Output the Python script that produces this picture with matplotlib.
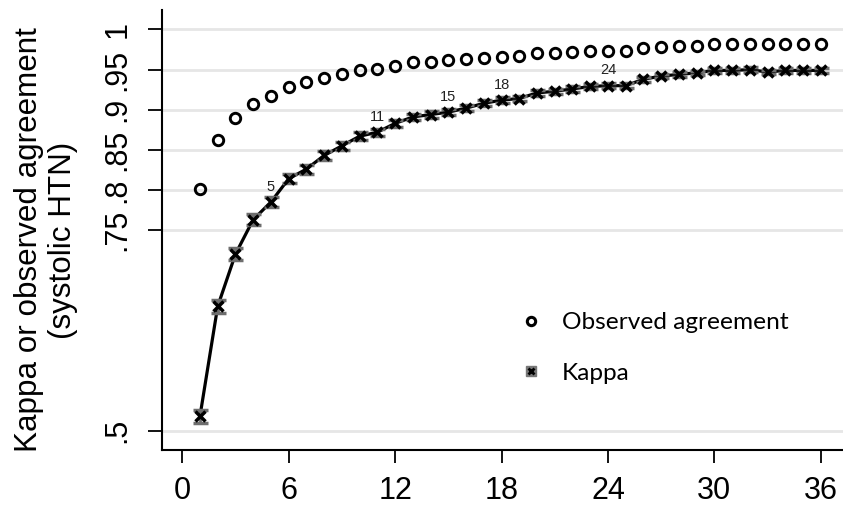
import matplotlib
matplotlib.use('Agg')
import matplotlib.pyplot as plt
from matplotlib.lines import Line2D

# readings per number of measurements
n_meas = list(range(1, 37))
observed = [0.801, 0.862, 0.890, 0.907, 0.917, 0.928, 0.934, 0.940, 0.944, 0.949,
            0.951, 0.955, 0.959, 0.960, 0.962, 0.963, 0.964, 0.966, 0.967, 0.971,
            0.971, 0.972, 0.973, 0.973, 0.973, 0.977, 0.978, 0.980, 0.980, 0.982,
            0.982, 0.982, 0.982, 0.982, 0.982, 0.982]
kappa = [0.518, 0.655, 0.720, 0.763, 0.785, 0.814, 0.826, 0.843, 0.855, 0.867,
         0.872, 0.883, 0.891, 0.894, 0.897, 0.902, 0.908, 0.912, 0.914, 0.921,
         0.923, 0.926, 0.929, 0.930, 0.930, 0.938, 0.942, 0.944, 0.946, 0.949,
         0.949, 0.950, 0.947, 0.949, 0.949, 0.949]
kappa_err = [0.0078, 0.0077, 0.0072, 0.0066, 0.0062, 0.0058, 0.0055, 0.0052, 0.0050, 0.0048,
             0.0046, 0.0044, 0.0042, 0.0041, 0.0040, 0.0039, 0.0038, 0.0037, 0.0036, 0.0035,
             0.0034, 0.0033, 0.0033, 0.0032, 0.0032, 0.0031, 0.0030, 0.0030, 0.0029, 0.0029,
             0.0028, 0.0028, 0.0028, 0.0027, 0.0027, 0.0027]
labelled = [5, 11, 15, 18, 24]

yticks = [0.5, 0.75, 0.8, 0.85, 0.9, 0.95, 1.0]
ytick_labels = ['.5', '.75', '.8', '.85', '.9', '.95', '1']
xticks = [0, 6, 12, 18, 24, 30, 36]

plt.rcParams['font.family'] = ['Liberation Sans', 'DejaVu Sans']

fig = plt.figure(figsize=(8.43, 5.08), dpi=100)
ax = fig.add_axes([162 / 843, 1 - 450.3 / 508, 1 - 162 / 843, 440.3 / 508])

ax.set_xlim(-1.14, 37.25)
ax.set_ylim(0.4756, 1.0243)

for y in yticks:
    ax.axhline(y, color='#e6e6e6', lw=2, zorder=0)

ax.plot(n_meas, observed, 'o', ms=7.5, mfc='none', mec='black', mew=2.1,
        ls='none', zorder=3)
ax.plot(n_meas, kappa, '-', color='black', lw=2.3, zorder=2)
ax.errorbar(n_meas, kappa, yerr=kappa_err, fmt='x', ls='none', color='black',
            ms=7, mew=2.5, ecolor='#6e6e6e', elinewidth=2, capsize=5.4, capthick=2.3,
            zorder=3)

for n in labelled:
    ax.annotate(str(n), (n, kappa[n - 1]), xytext=(0, 11), textcoords='offset points',
                ha='center', va='center', fontsize=10.5, color='#222222')

ax.set_xticks(xticks)
ax.set_yticks(yticks)
ax.set_yticklabels(ytick_labels)
ax.tick_params(axis='both', labelsize=22, width=1.3)
ax.tick_params(axis='x', length=9, pad=9.5)
ax.tick_params(axis='y', length=10, pad=11.5)
plt.setp(ax.get_yticklabels(), rotation=90, va='center', ha='right')

for s in ['top', 'right']:
    ax.spines[s].set_visible(False)
for s in ['left', 'bottom']:
    ax.spines[s].set_linewidth(1.5)

fig.text(46 / 843, 1 - 240 / 508, 'Kappa or observed agreement\n(systolic HTN)',
         rotation=90, ha='center', va='center', multialignment='center', fontsize=22.6)

obs_handle = Line2D([], [], marker='o', ms=6, mfc='none', mec='black', mew=2.2, ls='none')
kap_back = Line2D([], [], marker='s', ms=7, color='#777777', ls='none')
kap_front = Line2D([], [], marker='x', ms=5, mew=2, color='black', ls='none')
ax.legend([obs_handle, (kap_back, kap_front)], ['Observed agreement', 'Kappa'],
          loc='upper left',
          bbox_to_anchor=((497 - 162) / 681, (450.3 - 290) / 440.3), frameon=False,
          prop={'family': 'Lato', 'size': 17.6}, handlelength=1.0, handletextpad=0.75,
          labelspacing=1.2)

fig.savefig('out.png', dpi=100)
